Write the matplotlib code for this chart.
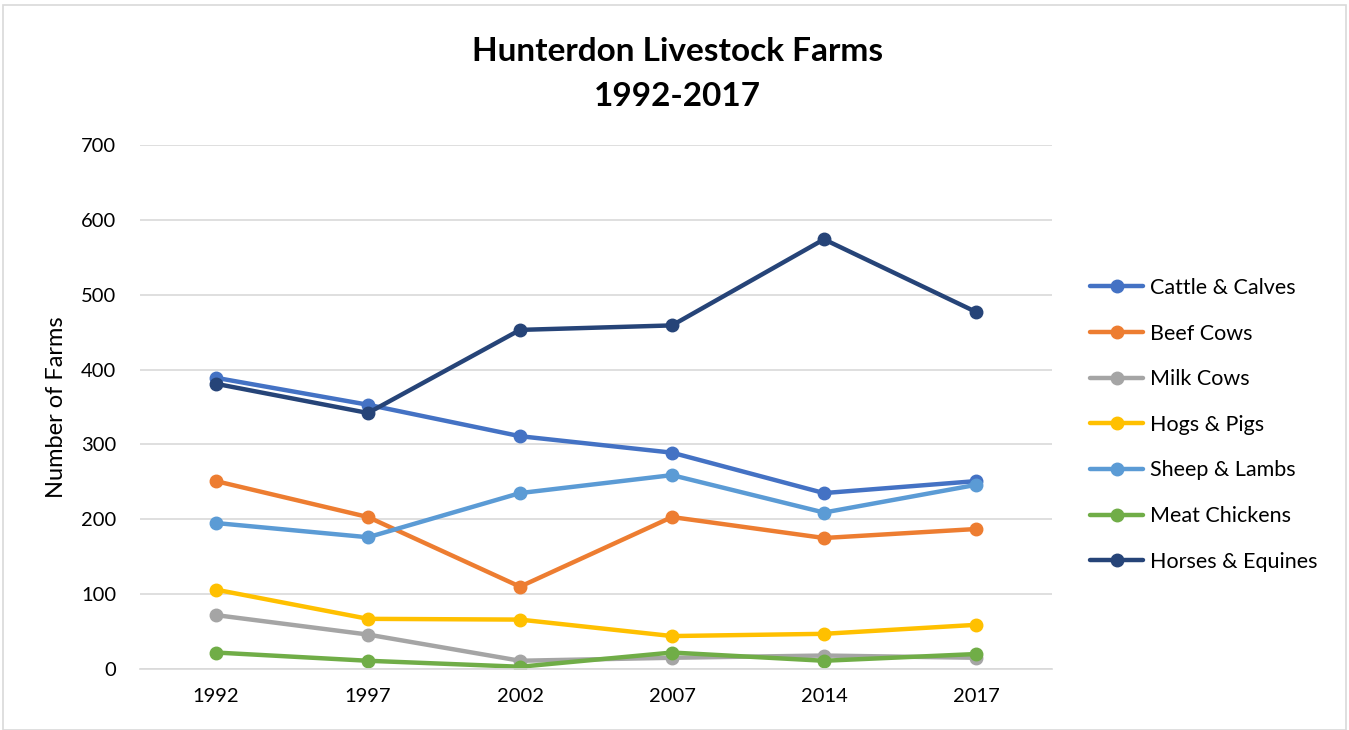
import matplotlib
matplotlib.use("Agg")
import matplotlib.pyplot as plt
from matplotlib.patches import Rectangle

plt.rcParams['font.family'] = ['Lato', 'DejaVu Sans']

years = ['1992', '1997', '2002', '2007', '2014', '2017']

cattle = [389, 353, 311, 289, 235, 251]
beef = [251, 203, 110, 203, 175, 187]
milk = [72, 46, 11, 15, 18, 15]
hogs = [106, 67, 66, 44, 47, 59]
sheep = [195, 176, 235, 259, 209, 246]
chickens = [22, 11, 3, 22, 11, 20]
horses = [381, 342, 453, 459, 574, 477]

names = ['Cattle & Calves', 'Beef Cows', 'Milk Cows', 'Hogs & Pigs',
         'Sheep & Lambs', 'Meat Chickens', 'Horses & Equines']
series = [cattle, beef, milk, hogs, sheep, chickens, horses]
colors = ['#4472C4', '#ED7D31', '#A5A5A5', '#FFC000', '#5B9BD5', '#70AD47', '#264478']

fig = plt.figure(figsize=(13.49, 7.3), dpi=100)
ax = fig.add_axes([140 / 1349, 61 / 730, 912 / 1349, 524 / 730])

x = list(range(len(years)))
for vals, name, c in zip(series, names, colors):
    ax.plot(x, vals, color=c, lw=3.2, marker='o', ms=9, label=name,
            solid_joinstyle='round', solid_capstyle='round')

ax.set_xlim(-0.5, len(years) - 0.5)
ax.set_ylim(0, 700)
ax.set_yticks(range(0, 701, 100))
ax.set_xticks(x)
ax.set_xticklabels(years)
ax.tick_params(length=0, labelsize=14.5)
ax.tick_params(axis='x', pad=14)
ax.tick_params(axis='y', pad=17)
ax.grid(axis='y', color='#D9D9D9', lw=1.2)
ax.set_axisbelow(True)
for s in ['top', 'right', 'left']:
    ax.spines[s].set_visible(False)
ax.spines['bottom'].set_color('#D9D9D9')
ax.spines['bottom'].set_linewidth(1.2)
ax.set_ylabel('Number of Farms', fontsize=17, labelpad=10)

fig.text(0.502, 0.930, 'Hunterdon Livestock Farms', ha='center', va='center',
         fontsize=24, fontweight='bold')
fig.text(0.502, 0.868, '1992-2017', ha='center', va='center',
         fontsize=24, fontweight='bold')

fig.legend(loc='center left', bbox_to_anchor=(1071 / 1349, 0.418), frameon=False,
           fontsize=15.5, handlelength=2.45, labelspacing=1.19, handletextpad=0.3)

fig.patches.append(Rectangle((3 / 1349, 0), 1343 / 1349, 725 / 730,
                             transform=fig.transFigure, fill=False,
                             edgecolor='#D9D9D9', lw=1.2))

fig.savefig('out.png', dpi=100)
